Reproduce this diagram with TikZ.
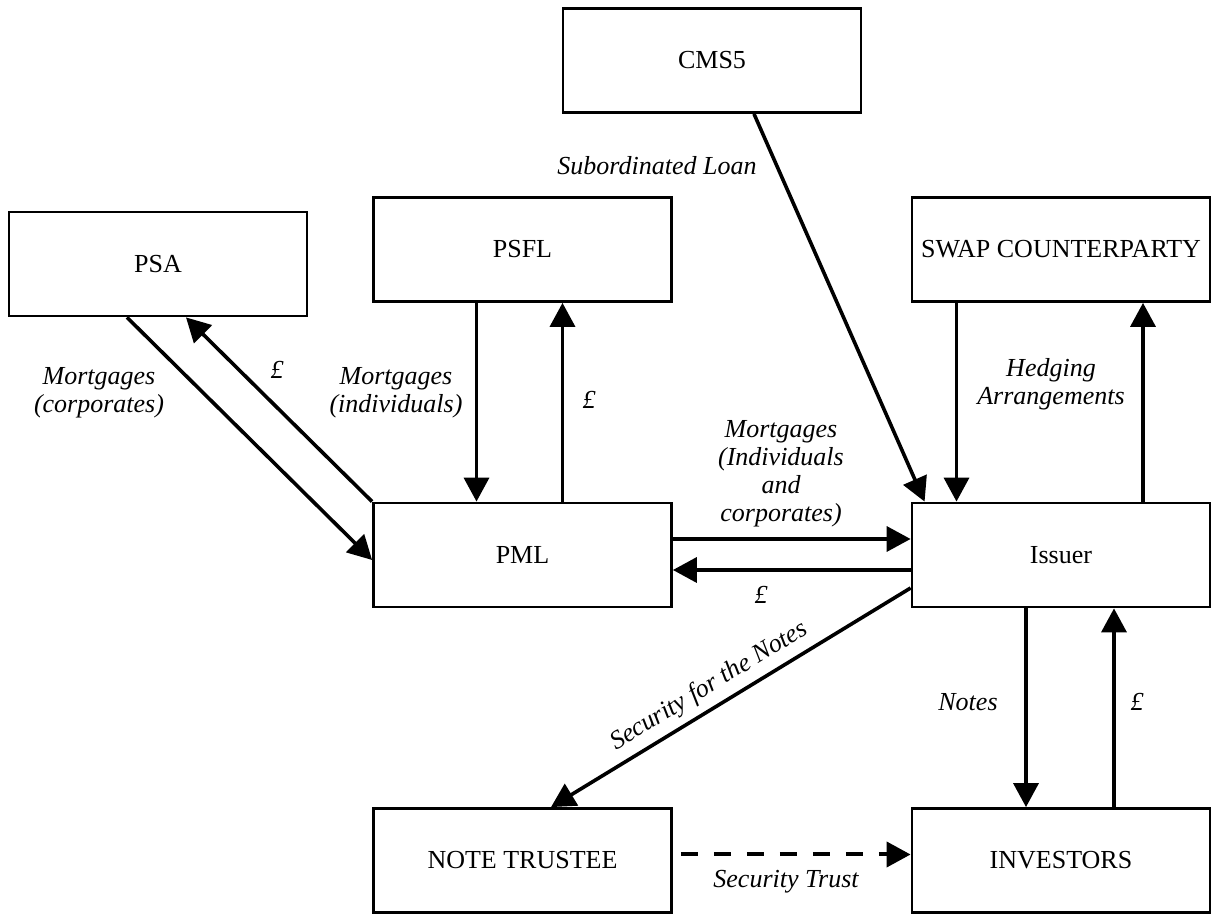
\documentclass[tikz,border=0pt]{standalone}
\usepackage{fontspec}
\setmainfont{Liberation Serif}
\usepackage{tikz}
\usetikzlibrary{arrows.meta, positioning, calc}

\tikzset{
    party/.style={draw, line width=1.4pt, minimum width=149pt, minimum height=52pt, inner sep=0pt, font=\fontsize{13}{15}\selectfont},
    flow/.style={line width=1.8pt, -{Triangle[length=12pt, width=12.5pt]}},
    lbl/.style={font=\fontsize{13}{14}\selectfont\itshape, align=center, inner sep=1pt}
}

\begin{document}
\begin{tikzpicture}[x=0.5pt, y=-0.5pt]
    \useasboundingbox (0,0) rectangle (1212,914);

    % Parties
    \node[party] (cms) at (712,60.5) {CMS5};
    \node[party] (psa) at (158,264) {PSA};
    \node[party] (psfl) at (522.5,249.5) {PSFL};
    \node[party] (swap) at (1061,249.5) {SWAP COUNTERPARTY};
    \node[party] (pml) at (522.5,555) {PML};
    \node[party] (issuer) at (1061,555) {Issuer};
    \node[party] (trustee) at (522.5,860.5) {NOTE TRUSTEE};
    \node[party] (investors) at (1061,860.5) {INVESTORS};

    % Originators to PML
    \draw[flow] ([xshift=-15.5pt]psa.south) -- ([yshift=-2.5pt]pml.west);
    \draw[flow] (pml.north west) -- ([xshift=14pt]psa.south);
    \draw[flow] ([xshift=-23pt]psfl.south) -- ([xshift=-23pt]pml.north);
    \draw[flow] ([xshift=20pt]pml.north) -- ([xshift=20pt]psfl.south);

    % PML and Issuer
    \draw[flow] ([yshift=8pt]pml.east) -- ([yshift=8pt]issuer.west);
    \draw[flow] ([yshift=-7.5pt]issuer.west) -- ([yshift=-7.5pt]pml.east);

    % Subordinated loan and hedging
    \draw[flow] ([xshift=21pt]cms.south) -- ([xshift=7pt]issuer.north west);
    \draw[flow] ([xshift=-52.25pt]swap.south) -- ([xshift=-52.25pt]issuer.north);
    \draw[flow] ([xshift=41pt]issuer.north) -- ([xshift=41pt]swap.south);

    % Notes
    \draw[flow] ([xshift=-17.5pt]issuer.south) -- ([xshift=-17.5pt]investors.north);
    \draw[flow] ([xshift=26.5pt]investors.north) -- ([xshift=26.5pt]issuer.south);
    \draw[flow] ([yshift=-16.5pt]issuer.west) -- ([xshift=14.25pt]trustee.north)
        node[lbl, sloped, above=2.5pt, pos=0.53] (secnotes) {Security for the Notes};
    \draw[flow, line width=2pt, dash pattern=on 8.5pt off 8pt] ([xshift=4pt,yshift=3pt]trustee.east) -- ([yshift=3pt]investors.west);

    % Labels
    \node[lbl] (subloan) at (657,166) {Subordinated Loan};
    \node[lbl] (mcorp) at (99,393) {Mortgages\\(corporates)};
    \node[lbl] (cashpsa) at (277,370) {£};
    \node[lbl] (mind) at (396,393) {Mortgages\\(individuals)};
    \node[lbl] (cashpsfl) at (589,400) {£};
    \node[lbl] (mall) at (781,474) {Mortgages\\(Individuals\\and\\corporates)};
    \node[lbl] (cashpml) at (761,595) {£};
    \node[lbl] (hedge) at (1051,384) {Hedging\\Arrangements};
    \node[lbl] (notes) at (968,702) {Notes};
    \node[lbl] (cashinv) at (1137,702) {£};
    \node[lbl] (sectrust) at (786,882) {Security Trust};
\end{tikzpicture}
\end{document}
